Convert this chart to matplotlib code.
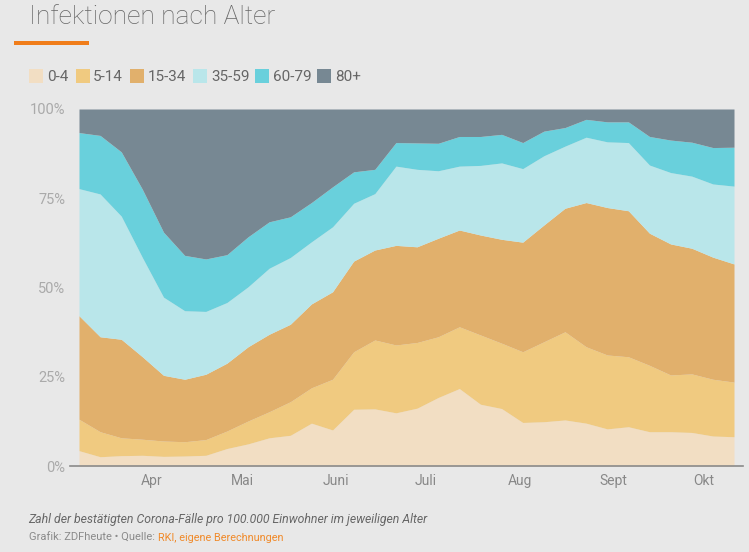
import matplotlib
matplotlib.use("Agg")
import matplotlib.pyplot as plt
import numpy as np
import pandas as pd
from matplotlib.lines import Line2D
from matplotlib.patches import Rectangle

# ---- data (cumulative tops, in %) ----
dates = pd.date_range("2020-03-08", periods=32, freq="7D")
labels = ["0-4", "5-14", "15-34", "35-59", "60-79", "80+"]
top_0_4 = [4.3, 2.6, 2.9, 3.0, 2.7, 2.8, 3.0, 4.9, 6.2, 7.9, 8.6, 12.0, 10.1, 15.9, 16.0, 14.9,
           16.2, 19.2, 21.7, 17.3, 16.1, 12.2, 12.4, 12.9, 12.0, 10.4, 11.0, 9.6, 9.6, 9.4, 8.4, 8.2]
top_5_14 = [13.1, 9.6, 7.9, 7.5, 7.0, 6.8, 7.4, 9.8, 12.6, 15.2, 18.0, 21.9, 24.3, 32.0, 35.3, 33.9,
            34.6, 36.2, 39.0, 36.7, 34.4, 32.0, 34.8, 37.6, 33.4, 31.1, 30.6, 28.2, 25.5, 25.8, 24.3, 23.5]
top_15_34 = [42.1, 36.2, 35.5, 30.6, 25.4, 24.3, 25.7, 28.8, 33.4, 36.9, 39.7, 45.4, 48.8, 57.4, 60.5, 61.8,
             61.4, 63.8, 66.1, 64.7, 63.5, 62.7, 67.5, 72.2, 73.8, 72.4, 71.5, 65.2, 62.2, 61.0, 58.5, 56.6]
top_35_59 = [77.7, 76.2, 70.0, 58.4, 47.3, 43.5, 43.3, 45.8, 50.2, 55.4, 58.4, 62.8, 67.0, 73.6, 76.3, 84.0,
             83.1, 82.7, 84.0, 84.2, 84.9, 83.3, 86.9, 89.6, 92.1, 90.8, 90.6, 84.3, 82.2, 81.2, 79.0, 78.4]
top_60_79 = [93.4, 92.6, 88.0, 77.5, 65.5, 59.0, 58.0, 59.2, 64.2, 68.4, 69.8, 73.8, 78.2, 82.4, 83.1, 90.6,
             90.5, 90.4, 92.3, 92.3, 92.9, 90.6, 93.8, 94.8, 97.1, 96.4, 96.4, 92.3, 91.3, 90.7, 89.2, 89.3]
top_80 = [100.0] * 32

month_ticks = pd.to_datetime(["2020-04-01", "2020-05-01", "2020-06-01", "2020-07-01",
                              "2020-08-01", "2020-09-01", "2020-10-01"])
month_labels = ["Apr", "Mai", "Juni", "Juli", "Aug", "Sept", "Okt"]
y_ticks = [0, 25, 50, 75, 100]
y_labels = ["0%", "25%", "50%", "75%", "100%"]

colors = ["#f2dec3", "#f0ca80", "#e1b06c", "#b9e6ea", "#69d0dc", "#778893"]

W, H = 749, 552
bg = "#e8e8e8"
plt.rcParams["font.family"] = ["Roboto", "DejaVu Sans"]

fig = plt.figure(figsize=(W / 100, H / 100), dpi=100, facecolor=bg)
ax = fig.add_axes([79 / W, (H - 466) / H, (734 - 79) / W, (466 - 109) / H])
ax.set_facecolor(bg)

tops = [top_0_4, top_5_14, top_15_34, top_35_59, top_60_79, top_80]
prev = np.zeros(len(dates))
for t, c in zip(tops, colors):
    t = np.array(t)
    ax.fill_between(dates, prev, t, color=c, linewidth=0, zorder=2)
    prev = t

ax.set_xlim(dates[0], dates[-1])
ax.set_ylim(0, 100)
for s in ax.spines.values():
    s.set_visible(False)
ax.set_yticks(y_ticks)
ax.set_yticklabels(y_labels)
ax.set_xticks(month_ticks)
ax.set_xticklabels(month_labels)
ax.tick_params(axis="y", length=0, pad=10, labelsize=10.5, labelcolor="#aaaaaa")
ax.tick_params(axis="x", length=0, pad=6, labelsize=10, labelcolor="#888888")

# baseline
fig.add_artist(Line2D([70 / W, 743 / W], [(H - 466) / H] * 2, color="#8a8a8a", lw=1.2))

# title and underline
fig.text(29 / W, (H - 17) / H, "Infektionen nach Alter", fontsize=19, fontweight="light",
         color="#666666", va="center", ha="left")
fig.add_artist(Rectangle((14 / W, (H - 44.7) / H), 75 / W, 4 / H, color="#f07d1a",
                         transform=fig.transFigure, lw=0))

# legend
sq_x = [29, 76, 130, 193, 255, 317]
tx_x = [47, 93, 148, 211, 273, 335]
for lab, c, sx, tx in zip(labels, colors, sq_x, tx_x):
    fig.add_artist(Rectangle((sx / W, (H - 83) / H), 14 / W, 14 / H, color=c,
                             transform=fig.transFigure, lw=0))
    fig.text(tx / W, (H - 77) / H, lab, fontsize=11, color="#666666", va="center", ha="left")

# footer
fig.text(28 / W, (H - 520) / H, "Zahl der bestätigten Corona-Fälle pro 100.000 Einwohner im jeweiligen Alter",
         fontsize=8.8, style="italic", color="#666666", va="center", ha="left")
t1 = fig.text(29 / W, (H - 538) / H, "Grafik: ZDFheute • Quelle: ", fontsize=8, color="#8a8a8a",
              va="center", ha="left")
fig.canvas.draw()
bb = t1.get_window_extent()
fig.text(bb.x1 / W, (H - 538) / H, "RKI, eigene Berechnungen", fontsize=7.8, color="#f08a2a",
         va="center", ha="left")

fig.savefig("out.png", dpi=100, facecolor=bg)
